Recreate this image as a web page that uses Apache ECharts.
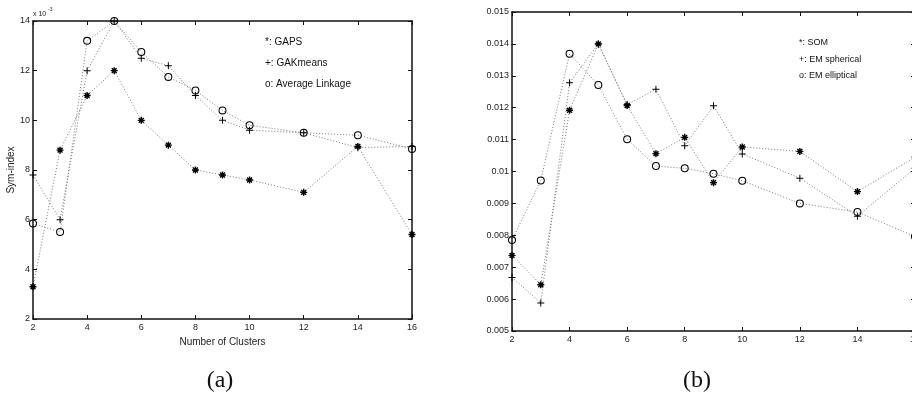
<!DOCTYPE html>
<html>
<head>
<meta charset="utf-8">
<script src="https://cdn.jsdelivr.net/npm/echarts@6/dist/echarts.min.js"></script>
<style>
  html, body { margin: 0; padding: 0; background: #fff; overflow: hidden; }
  #chart { width: 912px; height: 403px; }
</style>
</head>
<body>
<div id="chart"></div>
<script>
// Number of clusters evaluated (shared by both panels)
const clusterCounts = [2, 3, 4, 5, 6, 7, 8, 9, 10, 12, 14, 16];

// Panel (a): Sym-index, in units of 1e-3
const gapsA      = [3.3, 8.8, 11.0, 12.0, 10.0, 9.0, 8.0, 7.8, 7.6, 7.1, 8.95, 5.4];
const gakmeansA  = [7.8, 6.0, 12.0, 14.0, 12.5, 12.2, 11.0, 10.0, 9.6, 9.5, 8.9, 8.95];
const avgLinkA   = [5.85, 5.5, 13.2, 14.0, 12.75, 11.75, 11.2, 10.4, 9.8, 9.5, 9.4, 8.85];

// Panel (b): Sym-index
const somB       = [0.00737, 0.00645, 0.01192, 0.0140, 0.01207, 0.01056, 0.01107, 0.00965, 0.01077, 0.01063, 0.00937, 0.01045];
const emSphB     = [0.00668, 0.00588, 0.01278, 0.0140, 0.0121, 0.01258, 0.01081, 0.01206, 0.01055, 0.00979, 0.0086, 0.0101];
const emEllB     = [0.00785, 0.00972, 0.01369, 0.01271, 0.01101, 0.01017, 0.0101, 0.00993, 0.00971, 0.0090, 0.00873, 0.00796];

// Tick values
const xTicks  = [2, 4, 6, 8, 10, 12, 14, 16];
const yTicksA = [2, 4, 6, 8, 10, 12, 14];
const yTicksB = [0.005, 0.006, 0.007, 0.008, 0.009, 0.010, 0.011, 0.012, 0.013, 0.014, 0.015];

// Legend / caption texts
const legendA = ['*: GAPS', '+: GAKmeans', 'o: Average Linkage'];
const legendB = ['*: SOM', '+: EM spherical', 'o: EM elliptical'];

const FONT = '"Liberation Sans", Arial, Helvetica, sans-serif';
const SERIF = '"Liberation Serif", "DejaVu Serif", serif';

// Marker shapes (10x10 boxes)
const ASTERISK = 'path://M4,0L6,0L6,10L4,10Z M0,4L10,4L10,6L0,6Z ' +
  'M0.79,2.21L2.21,0.79L9.21,7.79L7.79,9.21Z M7.79,0.79L9.21,2.21L2.21,9.21L0.79,7.79Z';
const PLUS = 'path://M4.3,0L5.7,0L5.7,10L4.3,10Z M0,4.3L10,4.3L10,5.7L0,5.7Z';
// hollow ring: outer circle clockwise, inner circle counter-clockwise
const RING = 'path://M5,0A5,5 0 1,1 5,10A5,5 0 1,1 5,0Z M5,1.3A3.7,3.7 0 1,0 5,8.7A3.7,3.7 0 1,0 5,1.3Z';

const chart = echarts.init(document.getElementById('chart'), null, { renderer: 'canvas' });

function step(arr) { return arr[1] - arr[0]; }

function xAxisFor(gridIndex, position, showLabel, name) {
  return {
    type: 'value', gridIndex, position,
    min: xTicks[0], max: xTicks[xTicks.length - 1], interval: step(xTicks),
    axisLine: { show: true, onZero: false, lineStyle: { color: '#111', width: 1.5 } },
    axisTick: { show: true, inside: true, length: 4, lineStyle: { color: '#111', width: 1 } },
    axisLabel: { show: showLabel, color: '#222', fontFamily: FONT, fontSize: 9, margin: 4 },
    splitLine: { show: false },
    name: name || '', nameLocation: 'middle', nameGap: 13,
    nameTextStyle: { color: '#222', fontFamily: FONT, fontSize: 10 }
  };
}

function yAxisFor(gridIndex, position, ticks, showLabel, name) {
  return {
    type: 'value', gridIndex, position,
    min: ticks[0], max: ticks[ticks.length - 1], interval: step(ticks),
    axisLine: { show: true, onZero: false, lineStyle: { color: '#111', width: 1.5 } },
    axisTick: { show: true, inside: true, length: 4, lineStyle: { color: '#111', width: 1 } },
    axisLabel: { show: showLabel, color: '#222', fontFamily: FONT, fontSize: 9, margin: 3 },
    splitLine: { show: false },
    name: name || '', nameLocation: 'middle', nameGap: 15,
    nameTextStyle: { color: '#222', fontFamily: FONT, fontSize: 10 }
  };
}

function lineSeries(name, values, symbol, size, xi, yi) {
  return {
    type: 'line', name, xAxisIndex: xi, yAxisIndex: yi,
    data: clusterCounts.map((c, i) => [c, values[i]]),
    symbol, symbolSize: size, showSymbol: true,
    lineStyle: { color: '#777', width: 1, type: [1, 2] },
    itemStyle: { color: '#000', borderWidth: 0 },
    emphasis: { disabled: true },
    z: symbol === RING ? 3 : 4
  };
}

function legendTexts(items, x, y0, gap, size) {
  return items.map((t, i) => ({
    type: 'text', x, y: y0 + i * gap,
    style: { text: t, fill: '#111', font: size + 'px ' + FONT, verticalAlign: 'middle', align: 'left' }
  }));
}

const option = {
  animation: false,
  backgroundColor: '#fff',
  grid: [
    { left: 33, top: 21, width: 379, height: 298, containLabel: false, outerBoundsMode: 'none' },
    { left: 512, top: 12, width: 403, height: 319, containLabel: false, outerBoundsMode: 'none' }
  ],
  xAxis: [
    xAxisFor(0, 'bottom', true, 'Number of Clusters'),
    xAxisFor(0, 'top', false),
    xAxisFor(1, 'bottom', true),
    xAxisFor(1, 'top', false)
  ],
  yAxis: [
    yAxisFor(0, 'left', yTicksA, true, 'Sym-index'),
    yAxisFor(0, 'right', yTicksA, false),
    yAxisFor(1, 'left', yTicksB, true),
    yAxisFor(1, 'right', yTicksB, false)
  ],
  series: [
    lineSeries('GAPS', gapsA, ASTERISK, 7, 0, 0),
    lineSeries('GAKmeans', gakmeansA, PLUS, 7, 0, 0),
    lineSeries('Average Linkage', avgLinkA, RING, 8, 0, 0),
    lineSeries('SOM', somB, ASTERISK, 7, 2, 2),
    lineSeries('EM spherical', emSphB, PLUS, 7, 2, 2),
    lineSeries('EM elliptical', emEllB, RING, 8, 2, 2)
  ],
  graphic: [
    // exponent label of panel (a)
    { type: 'text', x: 33, y: 14, style: { text: 'x 10', fill: '#222', font: '7px ' + FONT, verticalAlign: 'middle' } },
    { type: 'text', x: 48, y: 10, style: { text: '-3', fill: '#222', font: '5px ' + FONT, verticalAlign: 'middle' } },
    ...legendTexts(legendA, 265, 42, 21, 10),
    ...legendTexts(legendB, 799, 43, 16.5, 9),
    { type: 'text', x: 220, y: 381, style: { text: '(a)', fill: '#111', font: '24px ' + SERIF, align: 'center', verticalAlign: 'middle' } },
    { type: 'text', x: 697, y: 381, style: { text: '(b)', fill: '#111', font: '24px ' + SERIF, align: 'center', verticalAlign: 'middle' } }
  ]
};

chart.setOption(option);
</script>
</body>
</html>
